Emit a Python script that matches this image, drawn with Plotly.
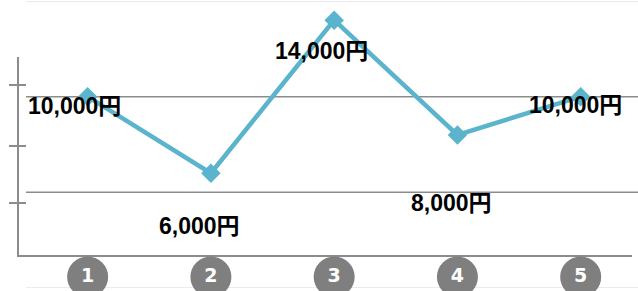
import plotly.graph_objects as go

# ---- data ----
categories = ["1", "2", "3", "4", "5"]
values = [10000, 6000, 14000, 8000, 10000]
value_labels = ["10,000円", "6,000円", "14,000円", "8,000円", "10,000円"]
grid_strong = [5000, 10000]
grid_light = [0, 15000]

# ---- style / placement ----
W, H = 638, 291
ML, MR, MT, MB = 26, 0, 1, 3
PW, PH = W - ML - MR, H - MT - MB
label_shift_x = [-13, -11, -13, -6, -5]
label_shift_y = [-9, -53, -31, -68, -8]
line_color = "#5ab4cd"
badge_color = "#7f7f7f"
badge_value = 580  # badge row placed just below the axis line (in y units)

xs = list(range(len(categories)))

def px_x(p):
    return (p - ML) / PW

def px_y(p):
    return (H - MB - p) / PH

fig = go.Figure()

fig.add_trace(go.Scatter(
    x=xs, y=values, mode="lines+markers",
    line=dict(color=line_color, width=4.5),
    marker=dict(symbol="diamond", size=15, color=line_color),
    cliponaxis=False, hoverinfo="skip", showlegend=False,
))

fig.add_trace(go.Scatter(
    x=xs, y=[badge_value] * len(xs), mode="markers+text",
    marker=dict(symbol="circle", size=41, color=badge_color),
    text=categories, textposition="middle center",
    textfont=dict(family="DejaVu Sans", size=19, color="white", weight="bold"),
    cliponaxis=False, hoverinfo="skip", showlegend=False,
))

shapes = []
for g in grid_light:
    shapes.append(dict(type="line", xref="paper", yref="y", x0=0, x1=1, y0=g, y1=g,
                       line=dict(color="#e4e4e4", width=1.5), layer="below"))
for g in grid_strong:
    shapes.append(dict(type="line", xref="paper", yref="y", x0=0, x1=1, y0=g, y1=g,
                       line=dict(color="#8c8c8c", width=1.5), layer="below"))
# decorative axis frame
shapes.append(dict(type="line", xref="paper", yref="paper",
                   x0=px_x(18), x1=px_x(632), y0=px_y(256), y1=px_y(256),
                   line=dict(color="#8c8c8c", width=2), layer="below"))
shapes.append(dict(type="line", xref="paper", yref="paper",
                   x0=px_x(18), x1=px_x(18), y0=px_y(57), y1=px_y(257),
                   line=dict(color="#8c8c8c", width=2), layer="below"))
for ty in [85, 146, 203]:
    shapes.append(dict(type="line", xref="paper", yref="paper",
                       x0=px_x(9), x1=px_x(26), y0=px_y(ty), y1=px_y(ty),
                       line=dict(color="#8c8c8c", width=2), layer="below"))

annotations = []
for i, (v, t) in enumerate(zip(values, value_labels)):
    annotations.append(dict(
        x=xs[i], y=v, xref="x", yref="y", text=t, showarrow=False,
        xshift=label_shift_x[i], yshift=label_shift_y[i],
        font=dict(family="Liberation Sans, Arial, Noto Sans CJK JP", size=23,
                  color="black", weight="bold"),
    ))

fig.update_layout(
    width=W, height=H,
    margin=dict(l=ML, r=MR, t=MT, b=MB),
    paper_bgcolor="white", plot_bgcolor="white",
    xaxis=dict(range=[-0.5, 4.465], visible=False, fixedrange=True),
    yaxis=dict(range=[0, 15000], visible=False, fixedrange=True),
    shapes=shapes, annotations=annotations,
    showlegend=False,
)

fig.write_html(
    "out.html",
    config={"displayModeBar": False},
    post_script="document.body.style.margin='0';document.body.style.overflow='hidden';",
)
